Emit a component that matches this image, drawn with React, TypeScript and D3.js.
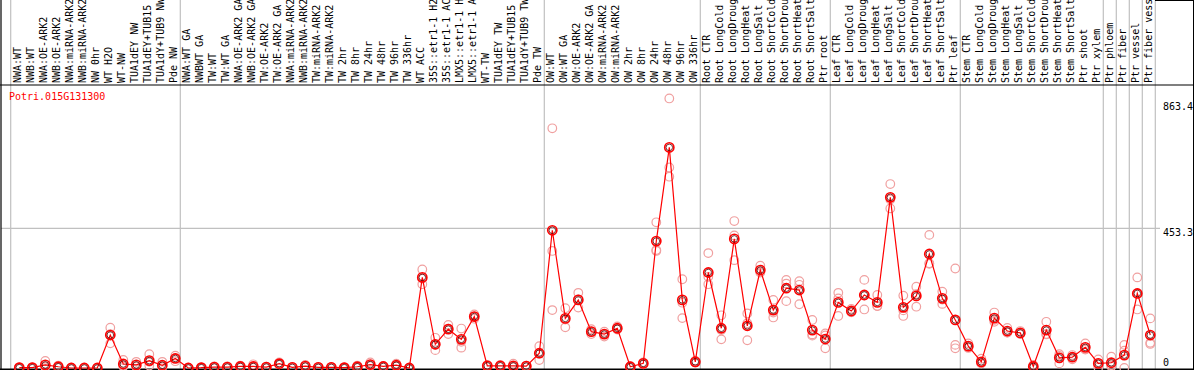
import React from "react";
import * as d3 from "d3";

const labels: string[] = [
  "NWA:WT", "NWB:WT", "NWA:OE-ARK2", "NWB:OE-ARK2", "NWA:miRNA-ARK2", "NWB:miRNA-ARK2",
  "NW 0hr", "WT H2O", "WT-NW", "TUA1dEY NW", "TUA1dEY+TUB15", "TUA1dY+TUB9 NW", "Pde NW",
  "NWA:WT GA", "NWBWT GA", "TW:WT", "TW:WT GA", "NWA:OE-ARK2 GA", "NWB:OE-ARK2 GA",
  "TW:OE-ARK2", "TW:OE-ARK2 GA", "NWA:miRNA-ARK2", "NWB:miRNA-ARK2", "TW:miRNA-ARK2",
  "TW:miRNA-ARK2", "TW 2hr", "TW 8hr", "TW 24hr", "TW 48hr", "TW 96hr", "TW 336hr",
  "WT ACC", "35S::etr1-1 H2O", "35S::etr1-1 ACC", "LMX5::etr1-1 H2O", "LMX5::etr1-1 ACC",
  "WT-TW", "TUA1dEY TW", "TUA1dEY+TUB15", "TUA1dY+TUB9 TW", "Pde TW",
  "OW:WT", "OW:WT GA", "OW:OE-ARK2", "OW:OE-ARK2 GA", "OW:miRNA-ARK2", "OW:miRNA-ARK2",
  "OW 2hr", "OW 8hr", "OW 24hr", "OW 48hr", "OW 96hr", "OW 336hr",
  "Root CTR", "Root LongCold", "Root LongDrought", "Root LongHeat", "Root LongSalt",
  "Root ShortCold", "Root ShortDrought", "Root ShortHeat", "Root ShortSalt", "Ptr root",
  "Leaf CTR", "Leaf LongCold", "Leaf LongDrought", "Leaf LongHeat", "Leaf LongSalt",
  "Leaf ShortCold", "Leaf ShortDrought", "Leaf ShortHeat", "Leaf ShortSalt", "Ptr leaf",
  "Stem CTR", "Stem LongCold", "Stem LongDrought", "Stem LongHeat", "Stem LongSalt",
  "Stem ShortCold", "Stem ShortDrought", "Stem ShortHeat", "Stem ShortSalt", "Ptr shoot",
  "Ptr xylem", "Ptr phloem", "Ptr fiber", "Ptr vessel", "Ptr fiber vessel",
];

const means: number[] = [
  1, 1, 10, 4, 0, 0, 0, 107, 13, 10, 24, 9, 31,
  0, 1, 3, 3, 5, 5, 3, 14, 2, 6, 2, 2, 1, 4, 11, 5, 9, 0,
  294, 77, 126, 93, 167, 7, 7, 7, 6, 48,
  447, 161, 221, 118, 110, 129, 4, 15, 412, 716, 221, 20,
  310, 129, 419, 137, 318, 188, 259, 253, 123, 94,
  213, 185, 237, 213, 554, 197, 234, 370, 226, 156,
  71, 20, 162, 120, 114, 5, 123, 33, 35, 67,
  15, 17, 42, 242, 107,
];

const reps: number[][] = [
  [0, 2, 1], [1, 2, 0], [23, 5, 3], [8, 2, 3], [0, 1, 0], [0, 0, 1], [0, 0, 0],
  [131, 80, 110], [26, 8, 5], [20, 6, 4], [45, 8, 20], [20, 4, 3], [40, 22, 31],
  [0, 1, 0], [2, 0, 1], [5, 2, 2], [5, 2, 2], [8, 3, 4], [12, 2, 1], [4, 2, 3],
  [18, 12, 12], [3, 1, 2], [10, 4, 4], [3, 1, 2], [3, 1, 2], [2, 1, 0], [8, 2, 2],
  [18, 8, 7], [7, 4, 4], [14, 6, 7], [0, 1, 0],
  [320, 272, 290], [98, 58, 75], [140, 110, 128], [128, 66, 85], [174, 160, 167],
  [10, 5, 6], [10, 5, 6], [14, 4, 3], [8, 4, 6], [71, 26, 47],
  [778, 380, 188], [194, 132, 157], [244, 196, 223], [126, 110, 118], [118, 102, 110],
  [135, 125, 127], [6, 2, 4], [18, 12, 15], [473, 383, 380], [875, 651, 621],
  [288, 212, 162], [24, 18, 18],
  [373, 296, 272], [171, 93, 123], [477, 430, 350], [177, 145, 90], [332, 310, 312],
  [221, 180, 164], [286, 274, 217], [282, 270, 207], [156, 105, 109], [112, 64, 106],
  [244, 226, 169], [192, 182, 181], [286, 236, 190], [237, 201, 201], [597, 518, 547],
  [235, 187, 169], [264, 240, 199], [432, 340, 338], [248, 222, 208], [323, 75, 64],
  [80, 65, 68], [30, 15, 15], [180, 150, 156], [130, 115, 115], [120, 110, 112],
  [10, 2, 3], [150, 110, 109], [45, 15, 39], [42, 28, 35], [80, 60, 61],
  [28, 2, 15], [37, 5, 9], [75, 56, 0], [294, 190, 242], [161, 82, 78],
];

const groupEnds: number[] = [12, 40, 52, 62, 72, 83, 84, 85, 86, 87];
const yTickValues: number[] = [863.4, 453.3, 0];
const title = "Potri.015G131300";

const W = 1194;
const H = 370;
const FONT = "'DejaVu Sans Mono', monospace";

export default function App() {
  const x = d3.scaleLinear().domain([0, labels.length - 1]).range([19.3, 1150.3]);
  const y = d3.scaleLinear().domain([0, 863.4]).range([368, 102]);
  const line = d3
    .line<number>()
    .x((_, i) => x(i))
    .y((d) => y(d));

  const gridX = [10.7, ...groupEnds.map((i) => x(i) + 5)];

  return (
    <svg
      width={W}
      height={H}
      style={{ position: "fixed", left: 0, top: 0, background: "#fff" }}
      fontFamily={FONT}
      fontSize={10}
    >
      <rect x={0} y={0} width={W} height={H} fill="#fff" />
      {gridX.map((gx, i) => (
        <line key={"gx" + i} x1={gx} x2={gx} y1={0} y2={H} stroke="#c0c0c0" strokeWidth={1.2} />
      ))}
      <line x1={1} x2={1160} y1={y(453.3)} y2={y(453.3)} stroke="#c0c0c0" strokeWidth={1.2} />
      <line x1={0} x2={W} y1={85} y2={85} stroke="#000" strokeWidth={1.2} />
      <line x1={0} x2={W} y1={369.3} y2={369.3} stroke="#000" strokeWidth={1.5} />
      <line x1={1} x2={1} y1={0} y2={H} stroke="#000" strokeWidth={1.2} />
      <line x1={1155} x2={W} y1={0.5} y2={0.5} stroke="#000" strokeWidth={1} />
      <line x1={W - 0.5} x2={W - 0.5} y1={0} y2={H} stroke="#000" strokeWidth={1} />

      {labels.map((lab, i) => (
        <text
          key={"lab" + i}
          transform={`translate(${x(i) + 2},83) rotate(-90)`}
          textAnchor="start"
          fill="#000"
        >
          {lab}
        </text>
      ))}

      <text x={9} y={100} fill="#ff0000">
        {title}
      </text>

      {yTickValues.map((v, i) => (
        <text
          key={"yt" + i}
          x={1163}
          y={v === 0 ? 366 : y(v) + 8}
          fill="#000"
        >
          {String(v)}
        </text>
      ))}

      {reps.map((rs, i) =>
        rs.map((v, j) => (
          <circle
            key={`r${i}-${j}`}
            cx={x(i)}
            cy={y(v)}
            r={4.3}
            fill="none"
            stroke="#f0a0a0"
            strokeWidth={1.2}
          />
        ))
      )}

      <path d={line(means) || ""} fill="none" stroke="#ff0000" strokeWidth={1.2} />

      {means.map((v, i) => (
        <g key={"m" + i}>
          <circle cx={x(i)} cy={y(v)} r={4.6} fill="none" stroke="#ff0000" strokeWidth={1.6} />
          <circle cx={x(i)} cy={y(v)} r={3.3} fill="none" stroke="#500000" strokeWidth={0.8} />
        </g>
      ))}
    </svg>
  );
}
